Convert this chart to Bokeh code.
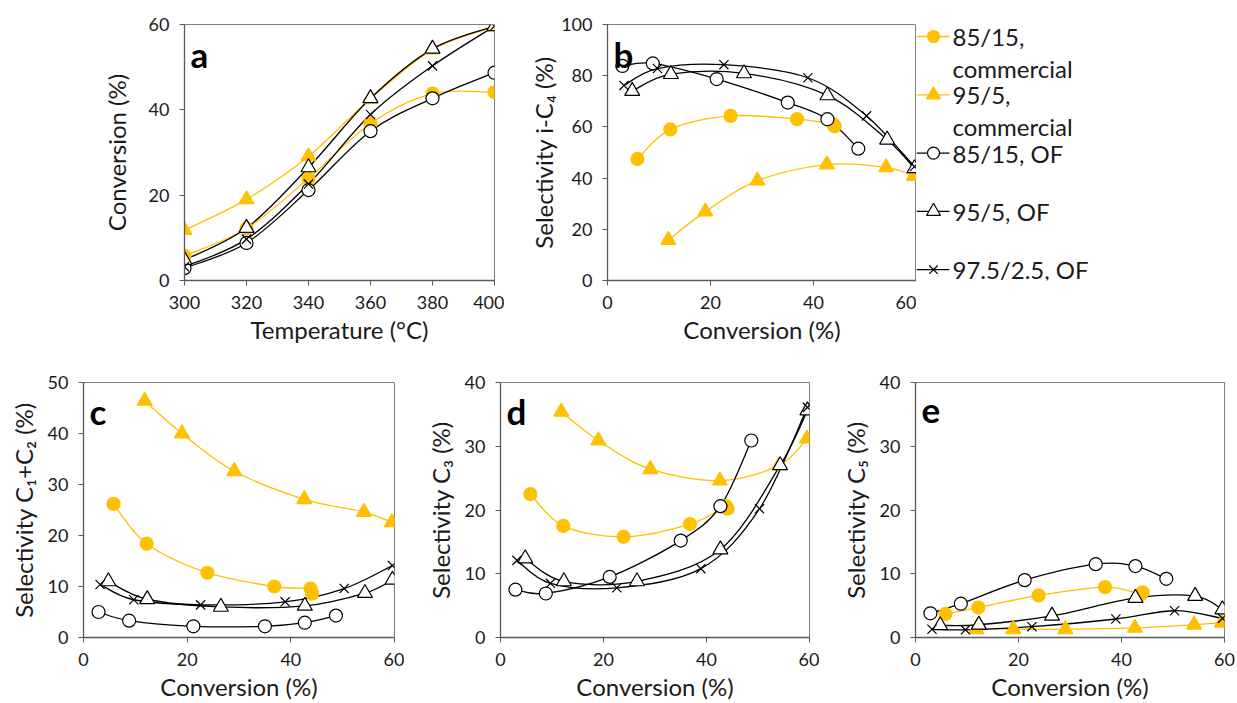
import numpy as np
from bokeh.plotting import figure
from bokeh.layouts import row, column
from bokeh.models import Range1d, Label, FixedTicker
from bokeh.core.properties import value
from bokeh.embed import file_html
from bokeh.resources import INLINE

# ---------------- data ----------------
temperature = [300, 320, 340, 360, 380, 400]
series_names = ["85/15, commercial", "95/5, commercial", "85/15, OF", "95/5, OF", "97.5/2.5, OF"]
legend_lines = [["85/15,", "commercial"], ["95/5,", "commercial"], ["85/15, OF"], ["95/5, OF"], ["97.5/2.5, OF"]]

# conversion (%) at each temperature
conv_8515_com = [5.8, 12.2, 23.9, 36.8, 43.8, 44.1]
conv_955_com = [11.8, 19.0, 29.1, 42.6, 54.1, 59.5]
conv_8515_of = [2.9, 8.8, 21.2, 35.0, 42.7, 48.7]
conv_955_of = [4.8, 12.3, 26.5, 42.7, 54.3, 59.6]
conv_975_of = [3.2, 9.7, 22.6, 38.9, 50.3, 59.6]

# selectivity i-C4 (%)
ic4_8515_com = [47.5, 59.0, 64.3, 63.0, 61.0, 60.3]
ic4_955_com = [15.8, 26.9, 39.0, 45.3, 44.2, 40.8]
ic4_8515_of = [83.8, 84.8, 78.7, 69.5, 63.0, 51.5]
ic4_955_of = [74.0, 80.6, 80.9, 72.3, 55.0, 43.8]
ic4_975_of = [76.2, 82.8, 84.3, 79.2, 64.3, 44.5]

# selectivity C1+C2 (%)
c12_8515_com = [26.2, 18.4, 12.7, 10.0, 9.6, 8.6]
c12_955_com = [46.4, 40.0, 32.6, 27.1, 24.6, 22.6]
c12_8515_of = [5.0, 3.3, 2.2, 2.2, 2.9, 4.3]
c12_955_of = [11.0, 7.5, 6.0, 6.2, 8.7, 11.3]
c12_975_of = [10.4, 7.4, 6.4, 7.0, 9.6, 14.1]

# selectivity C3 (%)
c3_8515_com = [22.5, 17.5, 15.8, 17.8, 20.6, 20.2]
c3_955_com = [35.4, 30.9, 26.4, 24.6, 27.0, 31.2]
c3_8515_of = [7.5, 6.9, 9.5, 15.2, 20.6, 30.9]
c3_955_of = [12.4, 8.8, 8.8, 13.8, 27.0, 35.6]
c3_975_of = [12.1, 8.5, 7.8, 10.8, 20.2, 36.1]

# selectivity C5 (%)
c5_8515_com = [3.7, 4.7, 6.6, 7.9, 6.8, 7.1]
c5_955_com = [1.3, 1.3, 1.3, 1.5, 2.0, 2.3]
c5_8515_of = [3.8, 5.3, 9.0, 11.5, 11.2, 9.2]
c5_955_of = [1.9, 2.0, 3.4, 6.2, 6.5, 4.4]
c5_975_of = [1.3, 1.2, 1.7, 2.9, 4.2, 3.0]

conversions = [conv_8515_com, conv_955_com, conv_8515_of, conv_955_of, conv_975_of]

# ---------------- styles ----------------
GOLD = "#FFC000"
FONT = "Lato"
TXT = "#1a1a1a"
styles = [
    dict(marker="circle", color=GOLD, fill=GOLD, size=13, lc=GOLD),
    dict(marker="triangle", color=GOLD, fill=GOLD, size=15, lc=GOLD),
    dict(marker="circle", color="black", fill="white", size=13, lc="black"),
    dict(marker="triangle", color="black", fill="white", size=15, lc="black"),
    dict(marker="x", color="black", fill=None, size=13, lc="black"),
]


def smooth(xs, ys, t=1.0 / 6.0):
    x = np.asarray(xs, float)
    y = np.asarray(ys, float)
    n = len(x)
    seg = dict(x0=[], y0=[], x1=[], y1=[], cx0=[], cy0=[], cx1=[], cy1=[])
    for i in range(n - 1):
        a = max(i - 1, 0)
        d = min(i + 2, n - 1)
        seg["x0"].append(x[i]); seg["y0"].append(y[i])
        seg["x1"].append(x[i + 1]); seg["y1"].append(y[i + 1])
        seg["cx0"].append(x[i] + (x[i + 1] - x[a]) * t)
        seg["cy0"].append(y[i] + (y[i + 1] - y[a]) * t)
        seg["cx1"].append(x[i + 1] - (x[d] - x[i]) * t)
        seg["cy1"].append(y[i + 1] - (y[d] - y[i]) * t)
    return seg


def make_fig(xr, yr, xticks, yticks, xlabel, ylabel, left, right, top, bottom, fw, fh,
             ylab_standoff, letter):
    p = figure(width=left + fw + right, height=top + fh + bottom,
               x_range=Range1d(*xr), y_range=Range1d(*yr),
               output_backend="svg", toolbar_location=None,
               min_border_left=left, min_border_right=right,
               min_border_top=top, min_border_bottom=bottom)
    p.outline_line_color = "#7f7f7f"
    p.outline_line_width = 1
    p.xgrid.visible = False
    p.ygrid.visible = False
    p.xaxis.ticker = FixedTicker(ticks=xticks)
    p.yaxis.ticker = FixedTicker(ticks=yticks)
    for ax in (p.xaxis, p.yaxis):
        ax.axis_line_color = "#595959"
        ax.axis_line_width = 1.3
        ax.major_tick_line_color = "#595959"
        ax.major_tick_in = 0
        ax.major_tick_out = 5
        ax.minor_tick_line_color = None
        ax.major_label_text_font = FONT
        ax.major_label_text_font_size = "18px"
        ax.major_label_text_color = TXT
        ax.axis_label_text_font = FONT
        ax.axis_label_text_font_size = "24px"
        ax.axis_label_text_font_style = "normal"
        ax.axis_label_text_color = TXT
        ax.major_label_standoff = 10
    p.xaxis.axis_label = xlabel
    p.yaxis.axis_label = ylabel
    p.xaxis.axis_label_standoff = 3
    p.yaxis.axis_label_standoff = ylab_standoff
    p.add_layout(Label(x=6, y=fh - 29, x_units="screen", y_units="screen", text=letter,
                       text_font=FONT, text_font_style="bold", text_font_size="35px",
                       text_color="black", text_baseline="alphabetic"))
    return p


def draw(p, xs_list, ys_list):
    for xs, ys, st in zip(xs_list, ys_list, styles):
        seg = smooth(xs, ys)
        p.bezier(**seg, line_color=st["lc"], line_width=1.3)
    for xs, ys, st in zip(xs_list, ys_list, styles):
        p.scatter(xs, ys, marker=st["marker"], size=st["size"], line_color=st["color"],
                  fill_color=st["fill"], line_width=1.2)


FH = 256
TOP1, BOT1 = 24, 70
conv_ticks = [0, 20, 40, 60]

# ---- top row ----
pa = make_fig((300, 400), (0, 60), temperature, [0, 20, 40, 60], "Temperature (°C)",
              "Conversion (%)", 184, 10, TOP1, BOT1, 310, FH, 15, "a")
draw(pa, [temperature] * 5, conversions)

pb = make_fig((0, 60), (0, 100), conv_ticks, [0, 20, 40, 60, 80, 100], "Conversion (%)",
              "Selectivity i-C\u2084 (%)", 103, 0, TOP1, BOT1, 309, FH, 0, "b")
draw(pb, conversions, [ic4_8515_com, ic4_955_com, ic4_8515_of, ic4_955_of, ic4_975_of])

# legend panel: frame spans the same vertical band as panel b (page y 24..280)
LW = 321
pl = figure(width=LW, height=TOP1 + FH + BOT1, x_range=Range1d(0, LW),
            y_range=Range1d(TOP1 + FH, TOP1),
            output_backend="svg", toolbar_location=None, x_axis_type=None, y_axis_type=None,
            min_border_left=0, min_border_right=0, min_border_top=TOP1, min_border_bottom=BOT1)
pl.outline_line_color = None
pl.xgrid.visible = False
pl.ygrid.visible = False
row_y0, row_step, line_gap = 36, 58.3, 32
for i, (lines, st) in enumerate(zip(legend_lines, styles)):
    yy = row_y0 + i * row_step
    pl.line([0, 33], [yy, yy], line_color=st["lc"], line_width=1.3)
    pl.scatter([17], [yy], marker=st["marker"], size=st["size"] - 1, line_color=st["color"],
               fill_color=st["fill"], line_width=1.2)
    pl.text(x=[36] * len(lines), y=[yy + k * line_gap for k in range(len(lines))], text=lines,
            text_font=value(FONT), text_font_size="24px", text_baseline="middle",
            text_color=TXT)

# ---- bottom row ----
pc = make_fig((0, 60), (0, 50), conv_ticks, [0, 10, 20, 30, 40, 50], "Conversion (%)",
              "Selectivity C\u2081+C\u2082 (%)", 83, 10, 32, 65, 311, FH, 7, "c")
draw(pc, conversions, [c12_8515_com, c12_955_com, c12_8515_of, c12_955_of, c12_975_of])

pd_ = make_fig((0, 60), (0, 40), conv_ticks, [0, 10, 20, 30, 40], "Conversion (%)",
               "Selectivity C\u2083 (%)", 96, 10, 32, 65, 309, FH, 7, "d")
draw(pd_, conversions, [c3_8515_com, c3_955_com, c3_8515_of, c3_955_of, c3_975_of])

pe = make_fig((0, 60), (0, 40), conv_ticks, [0, 10, 20, 30, 40], "Conversion (%)",
              "Selectivity C\u2085 (%)", 96, 13, 32, 65, 309, FH, 7, "e")
draw(pe, conversions, [c5_8515_com, c5_955_com, c5_8515_of, c5_955_of, c5_975_of])

layout = column(row(pa, pb, pl), row(pc, pd_, pe))
open("out.html", "w").write(file_html(layout, INLINE))
